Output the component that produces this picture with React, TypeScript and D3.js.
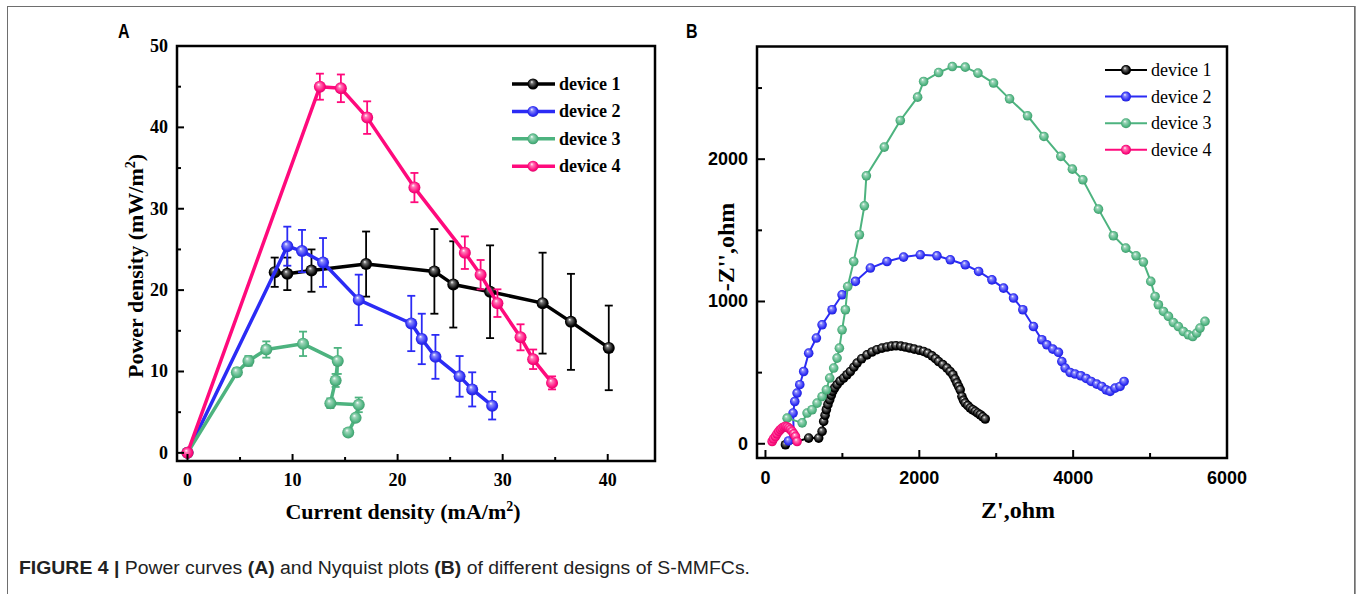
import React from 'react';
import * as d3 from 'd3';

// ---- Panel A: power curves [current density, power density, error] ----
const powerDevice1 = [
  [8.3, 22.2, 1.8], [9.5, 22.0, 2.0], [11.8, 22.4, 2.6], [17.0, 23.2, 4.0],
  [23.5, 22.3, 5.2], [25.3, 20.7, 5.3], [28.8, 19.8, 5.7], [33.8, 18.4, 6.2],
  [36.5, 16.1, 5.9], [40.1, 12.9, 5.2],
];
const powerDevice2 = [
  [0, 0, 0], [9.5, 25.4, 2.4], [10.9, 24.8, 2.6], [12.9, 23.4, 3.0], [16.3, 18.8, 3.1],
  [21.3, 15.9, 3.4], [22.3, 14.0, 3.1], [23.6, 11.8, 2.7], [25.9, 9.4, 2.5],
  [27.1, 7.8, 2.1], [29.0, 5.8, 1.7],
];
const powerDevice3 = [
  [0, 0, 0], [4.7, 9.9, 0.5], [5.8, 11.3, 0.6], [7.5, 12.7, 1.0], [11.0, 13.4, 1.5],
  [14.3, 11.3, 1.6], [14.1, 8.9, 0.8], [13.6, 6.1, 0.6], [16.3, 5.9, 0.9],
  [16.0, 4.3, 0.4], [15.3, 2.5, 0.3],
];
const powerDevice4 = [
  [0, 0, 0], [12.6, 45.0, 1.6], [14.6, 44.8, 1.7], [17.1, 41.2, 2.0], [21.6, 32.6, 1.8],
  [26.4, 24.6, 2.0], [27.9, 21.9, 1.8], [29.5, 18.4, 1.7], [31.7, 14.2, 1.6],
  [32.9, 11.5, 1.2], [34.7, 8.6, 0.8],
];

// ---- Panel B: Nyquist plots [Z', -Z''] ----
const nyqDevice1 = [
  [260, -7], [562, 40], [692, 40], [736, 87], [757, 157], [775, 200], [792, 239], [812, 275],
  [835, 309], [855, 340], [874, 368], [900, 392], [931, 415], [970, 440], [1017, 462],
  [1060, 485], [1104, 508], [1150, 538], [1191, 567], [1250, 597], [1320, 625], [1385, 645],
  [1450, 661], [1515, 672], [1580, 680], [1640, 686], [1697, 689], [1760, 686], [1818, 680],
  [1875, 673], [1935, 665], [2000, 657], [2056, 649], [2110, 636], [2165, 618], [2210, 598],
  [2251, 578], [2305, 556], [2359, 532], [2400, 508], [2437, 485], [2465, 455], [2489, 427],
  [2512, 402], [2532, 379], [2554, 332], [2575, 305], [2597, 286], [2630, 268], [2662, 251],
  [2695, 239], [2727, 227], [2760, 215], [2792, 204], [2825, 189], [2857, 174],
];
const nyqDevice2 = [
  [300, 20], [368, 63], [359, 216], [381, 297], [411, 356], [446, 415], [497, 508],
  [562, 637], [662, 743], [736, 836], [866, 942], [996, 1047], [1169, 1141], [1364, 1235],
  [1580, 1281], [1796, 1312], [2013, 1328], [2229, 1321], [2403, 1293], [2597, 1258],
  [2771, 1211], [2944, 1152], [3095, 1094], [3225, 1024], [3346, 942], [3484, 824],
  [3593, 731], [3658, 696], [3736, 665], [3809, 642], [3853, 578], [3896, 532], [3961, 501],
  [4026, 490], [4100, 478], [4169, 459], [4234, 438], [4307, 419], [4372, 403], [4429, 379],
  [4481, 368], [4545, 391], [4610, 403], [4662, 438],
];
const nyqDevice3 = [
  [282, 180], [477, 147], [541, 216], [606, 239], [671, 286], [736, 332], [792, 379],
  [835, 462], [887, 532], [931, 602], [961, 672], [996, 801], [1039, 942], [1069, 1105],
  [1147, 1281], [1221, 1469], [1286, 1672], [1312, 1883], [1545, 2085], [1753, 2272],
  [1978, 2436], [2056, 2546], [2251, 2609], [2429, 2651], [2597, 2647], [2762, 2605],
  [2965, 2535], [3173, 2424], [3407, 2305], [3620, 2160], [3840, 2020], [3990, 1930],
  [4126, 1855], [4329, 1649], [4523, 1462], [4684, 1375], [4818, 1321], [4913, 1277],
  [5009, 1141], [5065, 1035], [5108, 977], [5174, 930], [5239, 895], [5303, 852],
  [5368, 824], [5433, 789], [5498, 766], [5555, 754], [5606, 778], [5649, 813], [5714, 860],
];
const nyqDevice4 = [
  [87, 16], [105, 35], [130, 51], [150, 70], [173, 87], [195, 100], [216, 110], [240, 118],
  [260, 122], [282, 118], [303, 110], [325, 100], [346, 87], [368, 70], [390, 51], [411, 16],
];

const deviceNames = ['device 1', 'device 2', 'device 3', 'device 4'];
const deviceColors = ['#000000', '#2b2bf5', '#4db37f', '#ff0a7c'];

const powerTicksX = [0, 10, 20, 30, 40];
const powerTicksY = [0, 10, 20, 30, 40, 50];
const nyqTicksX = [0, 2000, 4000, 6000];
const nyqTicksY = [0, 1000, 2000];

const serif = '"Liberation Serif", "Times New Roman", serif';
const sans = '"Liberation Sans", Arial, sans-serif';

function Sphere({ x, y, r, i }: { x: number; y: number; r: number; i: number }) {
  return <circle cx={x} cy={y} r={r} fill={`url(#ball${i})`} />;
}

function PanelA() {
  const x = d3.scaleLinear().domain([-1, 44.5]).range([177, 655]);
  const y = d3.scaleLinear().domain([-1, 50]).range([461, 46]);
  const line = d3.line<number[]>().x(d => x(d[0])).y(d => y(d[1]));
  const series = [powerDevice1, powerDevice2, powerDevice3, powerDevice4];
  const x0 = x.range()[0], x1 = x.range()[1], y0 = y.range()[0], y1 = y.range()[1];
  return (
    <g>
      {/* series: lines, error bars, markers */}
      {series.map((s, i) => (
        <g key={i}>
          <path d={line(s) || ''} fill="none" stroke={deviceColors[i]} strokeWidth={3.5} strokeLinejoin="round" />
          {s.filter(d => d[2] > 0).map((d, j) => (
            <g key={j} stroke={deviceColors[i]} strokeWidth={1.8}>
              <line x1={x(d[0])} x2={x(d[0])} y1={y(d[1] - d[2])} y2={y(d[1] + d[2])} />
              <line x1={x(d[0]) - 4} x2={x(d[0]) + 4} y1={y(d[1] - d[2])} y2={y(d[1] - d[2])} />
              <line x1={x(d[0]) - 4} x2={x(d[0]) + 4} y1={y(d[1] + d[2])} y2={y(d[1] + d[2])} />
            </g>
          ))}
          {s.map((d, j) => <Sphere key={j} x={x(d[0])} y={y(d[1])} r={6} i={i} />)}
        </g>
      ))}
      <rect x={x0} y={y1} width={x1 - x0} height={y0 - y1} fill="none" stroke="#000" strokeWidth={2.5} />
      {d3.range(0, 45, 5).map(t => (
        <line key={'xt' + t} x1={x(t)} x2={x(t)} y1={y0} y2={y0 - (t % 10 === 0 ? 7 : 4)} stroke="#000" strokeWidth={2} />
      ))}
      {d3.range(0, 51, 5).map(t => (
        <line key={'yt' + t} x1={x0} x2={x0 + (t % 10 === 0 ? 7 : 4)} y1={y(t)} y2={y(t)} stroke="#000" strokeWidth={2} />
      ))}
      {powerTicksX.map(t => (
        <text key={'xl' + t} x={x(t)} y={y0 + 25} textAnchor="middle" fontFamily={serif} fontWeight="bold" fontSize={18}>{t}</text>
      ))}
      {powerTicksY.map(t => (
        <text key={'yl' + t} x={168} y={y(t) + 6} textAnchor="end" fontFamily={serif} fontWeight="bold" fontSize={18}>{t}</text>
      ))}
      <text x={403} y={519} textAnchor="middle" fontFamily={serif} fontWeight="bold" fontSize={22}>
        Current density (mA/m<tspan dy={-8} fontSize={14}>2</tspan><tspan dy={8}>)</tspan>
      </text>
      <text transform="translate(143,266) rotate(-90)" textAnchor="middle" fontFamily={serif} fontWeight="bold" fontSize={22}>
        Power density (mW/m<tspan dy={-8} fontSize={14}>2</tspan><tspan dy={8}>)</tspan>
      </text>
      {deviceNames.map((n, i) => {
        const ly = 84 + i * 27.4;
        return (
          <g key={n}>
            <line x1={512} x2={555} y1={ly} y2={ly} stroke={deviceColors[i]} strokeWidth={3.5} />
            <Sphere x={533} y={ly} r={5.5} i={i} />
            <text x={559} y={ly + 6} fontFamily={serif} fontWeight="bold" fontSize={18}>{n}</text>
          </g>
        );
      })}
    </g>
  );
}

function PanelB() {
  const x = d3.scaleLinear().domain([-110, 6000]).range([757, 1227]);
  const y = d3.scaleLinear().domain([-100, 2792]).range([458, 46.5]);
  const line = d3.line<number[]>().x(d => x(d[0])).y(d => y(d[1]));
  const series = [nyqDevice1, nyqDevice2, nyqDevice3, nyqDevice4];
  const x0 = x.range()[0], x1 = x.range()[1], y0 = y.range()[0], y1 = y.range()[1];
  return (
    <g>
      {series.map((s, i) => (
        <g key={i}>
          <path d={line(s) || ''} fill="none" stroke={deviceColors[i]} strokeWidth={2} />
          {s.map((d, j) => <Sphere key={j} x={x(d[0])} y={y(d[1])} r={4.8} i={i} />)}
        </g>
      ))}
      <rect x={x0} y={y1} width={x1 - x0} height={y0 - y1} fill="none" stroke="#000" strokeWidth={2.5} />
      {d3.range(0, 6001, 1000).map(t => (
        <line key={'xt' + t} x1={x(t)} x2={x(t)} y1={y0} y2={y0 - (t % 2000 === 0 ? 8 : 5)} stroke="#000" strokeWidth={2} />
      ))}
      {d3.range(0, 2501, 500).map(t => (
        <line key={'yt' + t} x1={x0} x2={x0 + (t % 1000 === 0 ? 8 : 5)} y1={y(t)} y2={y(t)} stroke="#000" strokeWidth={2} />
      ))}
      {nyqTicksX.map(t => (
        <text key={'xl' + t} x={x(t)} y={y0 + 26} textAnchor="middle" fontFamily={sans} fontWeight="bold" fontSize={18}>{t}</text>
      ))}
      {nyqTicksY.map(t => (
        <text key={'yl' + t} x={748} y={y(t) + 6} textAnchor="end" fontFamily={sans} fontWeight="bold" fontSize={18}>{t}</text>
      ))}
      <text x={1018} y={518} textAnchor="middle" fontFamily={serif} fontWeight="bold" fontSize={24}>Z',ohm</text>
      <text transform="translate(734,247) rotate(-90)" textAnchor="middle" fontFamily={serif} fontWeight="bold" fontSize={24}>-Z'',ohm</text>
      {deviceNames.map((n, i) => {
        const ly = 70 + i * 26.6;
        return (
          <g key={n}>
            <line x1={1105} x2={1147} y1={ly} y2={ly} stroke={deviceColors[i]} strokeWidth={2} />
            <Sphere x={1126} y={ly} r={5} i={i} />
            <text x={1151} y={ly + 6} fontFamily={serif} fontSize={18}>{n}</text>
          </g>
        );
      })}
    </g>
  );
}

export default function App() {
  return (
    <svg width={1357} height={594} style={{ position: 'absolute', left: 0, top: 0, background: '#fff' }}>
      <defs>
        {deviceColors.map((c, i) => (
          <radialGradient key={i} id={`ball${i}`} cx="0.5" cy="0.5" r="0.55" fx="0.38" fy="0.3">
            <stop offset="0" stopColor="#ffffff" />
            <stop offset="0.25" stopColor={d3.interpolateRgb('#ffffff', c)(0.55)} />
            <stop offset="0.75" stopColor={c} />
            <stop offset="1" stopColor={d3.color(c)!.darker(0.6).toString()} />
          </radialGradient>
        ))}
      </defs>
      <rect x={7.5} y={6.5} width={1347} height={600} fill="#fff" stroke="#6e6e6e" strokeWidth={1} />
      <line x1={1355.5} x2={1355.5} y1={6} y2={594} stroke="#9a9a9a" strokeWidth={1} />
      <text transform="translate(118,38) scale(0.8,1)" fontFamily={sans} fontWeight="bold" fontSize={20}>A</text>
      <text transform="translate(686,38) scale(0.8,1)" fontFamily={sans} fontWeight="bold" fontSize={20}>B</text>
      <PanelA />
      <PanelB />
      <text x={19} y={574} textLength={731} lengthAdjust="spacingAndGlyphs" fontFamily={sans} fontSize={18} fill="#222">
        <tspan fontWeight="bold">FIGURE 4 | </tspan>Power curves <tspan fontWeight="bold">(A)</tspan> and Nyquist plots <tspan fontWeight="bold">(B)</tspan> of different designs of S-MMFCs.
      </text>
    </svg>
  );
}
